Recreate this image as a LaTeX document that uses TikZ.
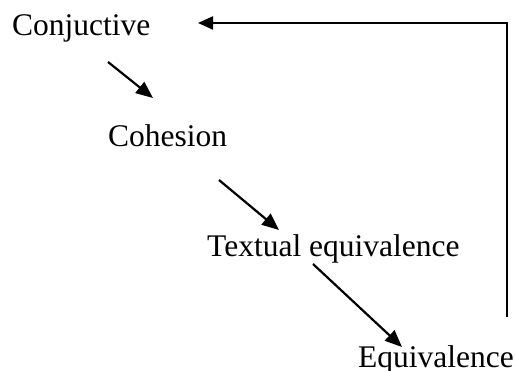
\documentclass[tikz,border=0pt]{standalone}
\usepackage{fontspec}
\setmainfont{Liberation Serif}
\usetikzlibrary{arrows.meta}
\begin{document}
\begin{tikzpicture}[x=1pt,y=1pt,
  lbl/.style={anchor=base west,inner sep=0pt,font=\fontsize{31.5}{36}\selectfont},
  arr/.style={line width=2.2pt,-{Triangle[length=17pt,width=14pt]}}]
\useasboundingbox (0,0) rectangle (515,371);
\node[lbl] (conj) at (12,335) {Conjuctive};
\node[lbl] (coh) at (108,224) {Cohesion};
\node[lbl] (text) at (207,114) {Textual equivalence};
\node[lbl] (equiv) at (358,3) {Equivalence};
\coordinate (a1s) at (108,309);
\coordinate (a1e) at (153,273);
\coordinate (a2s) at (219,191);
\coordinate (a2e) at (279,141);
\coordinate (a3s) at (313,107);
\coordinate (a3e) at (402,24);
\coordinate (fbs) at (507,54);
\coordinate (fbc) at (507,348);
\coordinate (fbe) at (198,348);
\draw[arr] (a1s) -- (a1e);
\draw[arr] (a2s) -- (a2e);
\draw[arr] (a3s) -- (a3e);
\draw[arr,-{Triangle[length=15pt,width=13pt]}] (fbs) -- (fbc) -- (fbe);
\end{tikzpicture}
\end{document}
